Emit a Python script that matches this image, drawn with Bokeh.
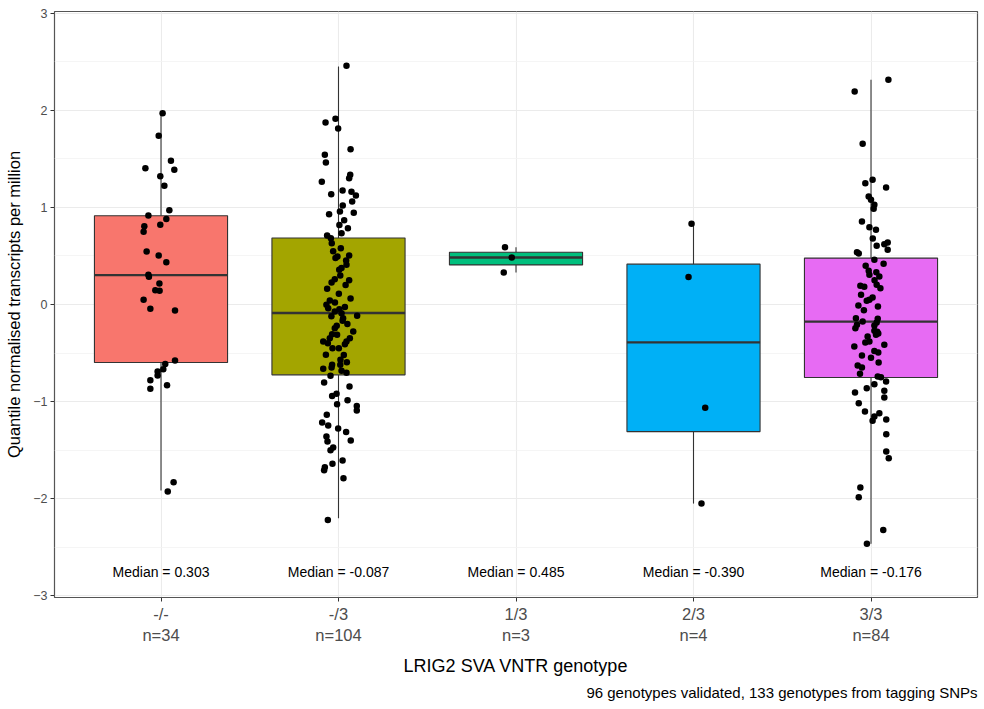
import numpy as np
from bokeh.plotting import figure
from bokeh.models import Range1d, FixedTicker, Title, ColumnDataSource
from bokeh.core.properties import value
from bokeh.embed import file_html
from bokeh.resources import INLINE

FONT = "Liberation Sans"

# ---------------- data ----------------
genotypes = ["-/-", "-/3", "1/3", "2/3", "3/3"]
counts = [34, 104, 3, 4, 84]
colors = ["#F8766D", "#A3A500", "#00BF7D", "#00B0F6", "#E76BF3"]

# box statistics
medians = [0.303, -0.087, 0.485, -0.390, -0.176]
q1 = [-0.598, -0.725, 0.408, -1.310, -0.753]
q3 = [0.914, 0.685, 0.538, 0.416, 0.478]
whisker_low = [-1.918, -2.203, 0.330, -2.052, -2.467]
whisker_high = [1.972, 2.454, 0.591, 0.832, 2.316]

# individual samples (value, horizontal jitter in category units)
vals_mm = [1.972, 1.739, 1.481, 1.405, 1.388, 1.323, 1.223, 0.972, 0.918, 0.880,
           0.821, 0.807, 0.749, 0.546, 0.505, 0.436, 0.306, 0.285, 0.216, 0.148,
           0.141, 0.048, -0.045, -0.062, -0.577, -0.612, -0.667, -0.691, -0.732, -0.780,
           -0.832, -0.869, -1.832, -1.928]
jit_mm = [0.009, -0.013, 0.056, -0.088, 0.075, -0.004, 0.019, 0.047, -0.071, 0.030,
          -0.004, -0.094, -0.098, -0.081, -0.013, 0.030, -0.071, -0.068, -0.009, -0.032,
          -0.008, -0.098, -0.060, 0.079, 0.079, 0.024, 0.013, -0.019, -0.019, -0.060,
          0.034, -0.060, 0.071, 0.038]

vals_m3 = [2.461, 1.914, 1.876, 1.814, 1.601, 1.543, 1.464, 1.337, 1.302, 1.265,
           1.175, 1.162, 1.137, 1.124, 1.062, 1.021, 0.959, 0.931, 0.945, 0.869,
           0.787, 0.735, 0.711, 0.684, 0.632, 0.581, 0.505, 0.495, 0.478, 0.454,
           0.409, 0.375, 0.357, 0.251, 0.261, 0.227, 0.162, 0.110, 0.062, 0.041,
           -0.003, -0.027, -0.038, -0.072, -0.089, -0.117, -0.141, -0.168, -0.244, -0.278,
           -0.306, -0.313, -0.347, -0.347, -0.381, -0.381, -0.409, -0.450, -0.450, -0.519,
           -0.570, -0.595, -0.622, -0.649, -0.663, -0.684, -0.704, -0.735, -0.804, -0.845,
           -0.921, -0.942, -0.987, -1.027, -1.045, -1.093, -1.137, -1.216, -1.247, -1.278,
           -1.313, -1.361, -1.402, -1.412, -1.474, -1.502, -1.608, -1.642, -1.677, -1.708,
           -1.790, -2.220,
           0.550, 0.300, 0.200, 0.020, -0.050, -0.120, -0.200, -0.220, -0.520, -0.620,
           0.820, -0.400]
jit_m3 = [0.045, -0.017, -0.073, -0.002, 0.068, -0.077, -0.071, 0.066, 0.060, -0.094,
          0.023, 0.073, -0.041, 0.098, 0.077, 0.024, 0.008, -0.053, 0.086, 0.032,
          0.053, 0.017, -0.064, -0.043, -0.038, 0.013, 0.060, -0.006, -0.017, 0.043,
          0.045, 0.017, 0.004, 0.060, -0.021, -0.039, -0.064, 0.002, 0.068, -0.049,
          -0.068, 0.036, -0.058, -0.021, 0.017, 0.105, 0.026, 0.023, -0.021, 0.083,
          -0.036, -0.008, 0.064, -0.049, -0.086, 0.045, 0.036, -0.034, 0.002, -0.071,
          0.011, 0.047, -0.036, -0.039, -0.086, 0.017, 0.045, -0.045, -0.081, 0.062,
          -0.011, -0.036, 0.051, -0.008, 0.103, 0.103, -0.066, -0.092, -0.058, -0.002,
          0.043, -0.068, 0.069, -0.062, -0.030, -0.045, 0.023, -0.034, -0.077, -0.081,
          0.028, -0.060,
          -0.030, 0.010, 0.040, -0.020, 0.005, -0.040, 0.050, -0.010, 0.030, 0.010,
          0.005, -0.060]

vals_13 = [0.591, 0.485, 0.330]
jit_13 = [-0.062, -0.024, -0.069]

vals_23 = [0.832, 0.283, -1.063, -2.052]
jit_23 = [-0.011, -0.028, 0.066, 0.045]

vals_33 = [2.316, 2.196, 1.657, 1.285, 1.251, 1.206, 1.113, 1.079, 1.027, 0.986,
           0.856, 0.797, 0.770, 0.639, 0.622, 0.605, 0.564, 0.539, 0.526, 0.461,
           0.420, 0.347, 0.333, 0.306, 0.289, 0.193, 0.182, 0.203, 0.168, 0.100,
           0.072, 0.048, 0.038, -0.010, -0.021, -0.141, -0.148, -0.175, -0.186, -0.210,
           -0.216, -0.244, -0.271, -0.299, -0.330, -0.313, -0.381, -0.392, -0.416, -0.433,
           -0.478, -0.495, -0.526, -0.598, -0.629, -0.649, -0.715, -0.742, -0.749, -0.794,
           -0.821, -0.863, -0.890, -0.907, -0.959, -1.017, -1.103, -1.120, -1.155, -1.199,
           -1.186, -1.337, -1.515, -1.584, -1.887, -1.986, -2.323, -2.467,
           0.400, 0.250, -0.060, -0.280, -0.550, 0.680]
jit_33 = [0.098, -0.092, -0.047, 0.009, -0.032, 0.085, -0.013, 0.000, 0.019, 0.015,
          -0.051, -0.009, 0.028, 0.094, 0.075, 0.032, 0.094, -0.079, -0.069, 0.019,
          0.071, -0.013, 0.030, -0.009, 0.047, -0.060, -0.038, 0.032, 0.053, -0.056,
          0.009, -0.009, -0.024, -0.071, 0.039, -0.085, 0.038, -0.047, 0.032, -0.079,
          0.019, -0.088, 0.019, 0.041, -0.019, 0.028, -0.009, -0.032, 0.075, -0.094,
          0.019, 0.041, -0.051, 0.043, -0.075, -0.051, -0.062, 0.038, 0.056, 0.085,
          0.019, -0.024, 0.075, -0.090, 0.075, -0.069, -0.034, 0.047, 0.019, 0.009,
          0.086, 0.086, 0.086, 0.100, -0.060, -0.069, 0.069, -0.023,
          -0.030, 0.020, -0.040, 0.035, 0.000, 0.010]

samples = [(vals_mm, jit_mm), (vals_m3, jit_m3), (vals_13, jit_13),
           (vals_23, jit_23), (vals_33, jit_33)]

title_y = "Quantile normalised transcripts per million"
title_x = "LRIG2 SVA VNTR genotype"
caption = "96 genotypes validated, 133 genotypes from tagging SNPs"

# ---------------- figure ----------------
xs = np.arange(1, len(genotypes) + 1)
BOX_W = 0.75

p = figure(width=984, height=709, output_backend="svg", toolbar_location=None,
           x_range=Range1d(0.4, 5.6), y_range=Range1d(-3.02, 3.02),
           min_border_left=54, min_border_right=7, min_border_top=11,
           min_border_bottom=112)
p.background_fill_color = "white"
p.border_fill_color = "white"
p.outline_line_color = "#555555"
p.outline_line_width = 1.2

# grid
p.xaxis.ticker = FixedTicker(ticks=list(xs))
p.yaxis.ticker = FixedTicker(ticks=[-3, -2, -1, 0, 1, 2, 3],
                             minor_ticks=[-2.5, -1.5, -0.5, 0.5, 1.5, 2.5])
p.xgrid.grid_line_color = "#EBEBEB"
p.xgrid.grid_line_width = 1.1
p.ygrid.grid_line_color = "#EBEBEB"
p.ygrid.grid_line_width = 1.1
p.ygrid.minor_grid_line_color = "#F2F2F2"
p.ygrid.minor_grid_line_width = 0.8

# axes
for ax in (p.xaxis, p.yaxis):
    ax.axis_line_color = None
    ax.major_tick_line_color = "#333333"
    ax.major_tick_line_width = 1
    ax.major_tick_out = 4
    ax.major_tick_in = 0
    ax.minor_tick_line_color = None
    ax.major_label_text_color = "#4D4D4D"
    ax.major_label_text_font = FONT
    ax.axis_label_text_font = FONT
    ax.axis_label_text_font_style = "normal"
    ax.axis_label_text_color = "#000000"

p.yaxis.major_label_text_font_size = "12.5px"
p.yaxis.major_label_standoff = 3
p.yaxis.axis_label = title_y
p.yaxis.axis_label_text_font_size = "16.5px"
p.yaxis.axis_label_standoff = 7

p.xaxis.major_label_text_font_size = "16.5px"
p.xaxis.major_label_standoff = 3
p.xaxis.major_label_overrides = {int(x): f"{g}\nn={n}" for x, g, n in zip(xs, genotypes, counts)}
p.xaxis.axis_label = title_x
p.xaxis.axis_label_text_font_size = "18px"
p.xaxis.axis_label_standoff = 9

cap = Title(text=caption, align="right", text_font=FONT, text_font_size="15px",
            text_font_style="normal", text_color="#000000", standoff=5)
p.add_layout(cap, "below")

# whiskers
p.segment(x0=xs, y0=q3, x1=xs, y1=whisker_high, line_color="#333333", line_width=1.1)
p.segment(x0=xs, y0=q1, x1=xs, y1=whisker_low, line_color="#333333", line_width=1.1)

# boxes
box_src = ColumnDataSource(dict(x=xs, top=q3, bottom=q1, color=colors))
p.vbar(x="x", width=BOX_W, top="top", bottom="bottom", fill_color="color",
       line_color="#333333", line_width=1.1, source=box_src)

# medians
p.segment(x0=xs - BOX_W / 2, y0=medians, x1=xs + BOX_W / 2, y1=medians,
          line_color="#333333", line_width=2.4)

# jittered points
px, py = [], []
for x, (vals, jit) in zip(xs, samples):
    px.extend(x + np.asarray(jit))
    py.extend(vals)
p.scatter(x=px, y=py, size=6.5, fill_color="black", line_color="black", line_width=0)

# median labels
p.text(x=xs, y=[-2.76] * len(xs), text=[f"Median = {m:.3f}" for m in medians],
       text_align="center", text_baseline="middle", text_font=value(FONT),
       text_font_size="14px", text_color="black")

open("out.html", "w").write(file_html(p, INLINE))
